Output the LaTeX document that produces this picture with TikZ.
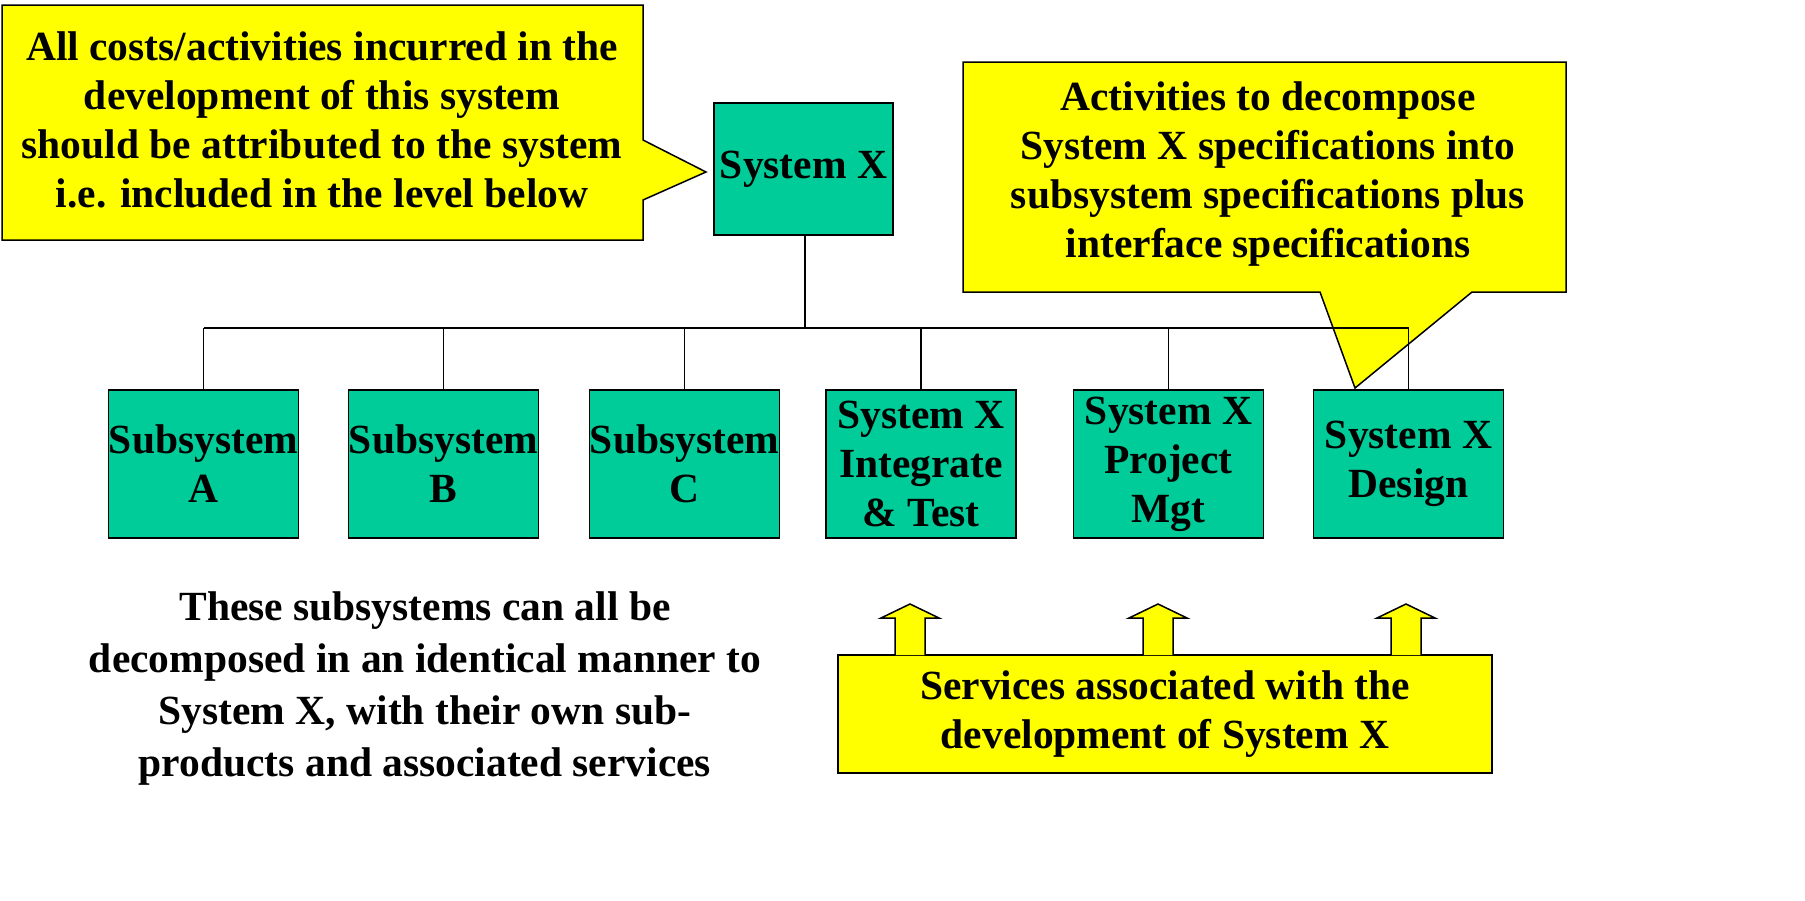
\documentclass[tikz,border=0pt]{standalone}
\usepackage{fontspec}
\setmainfont{Liberation Serif}
\definecolor{boxgreen}{RGB}{0,204,153}
\definecolor{noteyellow}{RGB}{255,255,0}
\begin{document}
\begin{tikzpicture}[x=1pt, y=-1pt, font=\fontsize{41.5}{49}\selectfont\bfseries, line join=miter,
	wbs/.style={draw, line width=1.5pt, fill=boxgreen, minimum width=190pt, minimum height=148pt, align=center, inner sep=0pt},
	note/.style={draw, line width=1.5pt, fill=noteyellow},
	link/.style={line width=1.3pt}]
	\useasboundingbox (0,0) rectangle (1805,900);
	% callouts
	\draw[note] (2,5) -- (643,5) -- (643,140) -- (706,172) -- (643,200) -- (643,240) -- (2,240) -- cycle;
	\node[align=center] (costnote) at (322,120) {All costs/activities incurred in the\\development of this system\\should be attributed to the system\\i.e. included in the level below};
	\draw[note] (963,62) -- (1566,62) -- (1566,292) -- (1472,292) -- (1355,388) -- (1320,292) -- (963,292) -- cycle;
	\node[align=center] (specnote) at (1268,174) {Activities to decompose\\System X specifications into\\subsystem specifications plus\\interface specifications};
	% tree
	\node[wbs, minimum width=179pt, minimum height=132pt] (sysx) at (803.5,169) {System X};
	\node[wbs] (suba) at (203.5,464) {Subsystem\\A};
	\node[wbs] (subb) at (443.5,464) {Subsystem\\B};
	\node[wbs] (subc) at (684.5,464) {Subsystem\\C};
	\node[wbs] (intt) at (921,464) {System X\\Integrate\\\& Test};
	\node[wbs] (pmgt) at (1168.5,464) {System X\\Project\\Mgt};
	\node[wbs] (desg) at (1408.5,464) {System X\\Design};
	\coordinate (bus) at (805,328);
	\draw[link] (sysx.south -| bus) -- (bus);
	\draw[link] (bus -| suba.north) -- (bus -| desg.north);
	\foreach \n in {suba,subb,subc,intt,pmgt,desg}
		\draw[link] (bus -| \n.north) -- (\n.north);
	% services
	\node[note, minimum width=654pt, minimum height=118pt, align=center, inner sep=0pt] (svc) at (1165,714) {Services associated with the\\development of System X};
	\foreach \ax in {910,1158,1406}
		\draw[note] (\ax-15,655) -- (\ax-15,618) -- (\ax-29,618) -- (\ax,604) -- (\ax+29,618) -- (\ax+15,618) -- (\ax+15,655);
	\node[align=center, font=\fontsize{41.5}{52}\selectfont\bfseries] (subnote) at (425,689) {These subsystems can all be\\decomposed in an identical manner to\\System X, with their own sub-\\products and associated services};
\end{tikzpicture}
\end{document}
